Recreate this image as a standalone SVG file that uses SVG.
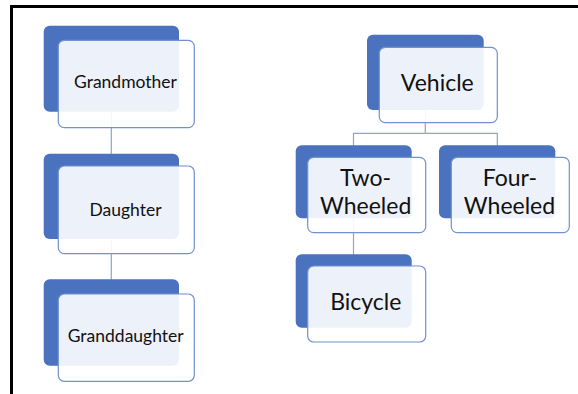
<svg xmlns="http://www.w3.org/2000/svg" width="578" height="394" viewBox="0 0 578 394">
<style>
.back{fill:#4A72BE;}
.front{fill:#FFFFFF;fill-opacity:0.9;stroke:#7092D0;stroke-width:1.2;}
.conn{fill:none;stroke:#8EA3CF;stroke-width:1.2;}
.lbl{font-family:Lato,"Liberation Sans",sans-serif;fill:#111;text-anchor:middle;}
.s{font-size:17.5px;}
.l{font-size:23px;}
</style>
<rect width="578" height="394" fill="#FFFFFF"/>
<path d="M11.5 394 V6.5 H578" fill="none" stroke="#000" stroke-width="3"/>
<g id="connectors">
<path class="conn" d="M111.3 112 V154"/>
<path class="conn" d="M111.3 239 V280"/>
<path class="conn" d="M425.3 110 V133.3 M353.5 146 V133.3 H497.3 V146"/>
<path class="conn" d="M353.5 218 V255"/>
</g>
<g id="grandmother">
<rect class="back" x="43.7" y="25.7" width="135.3" height="86" rx="6"/>
<rect class="front" x="58.3" y="40.3" width="136" height="87.4" rx="6"/>
<text class="lbl s" x="125.5" y="88">Grandmother</text>
</g>
<g id="daughter">
<rect class="back" x="43.7" y="153.7" width="135.3" height="85.3" rx="6"/>
<rect class="front" x="58.3" y="166" width="136" height="87.7" rx="6"/>
<text class="lbl s" x="125.5" y="216">Daughter</text>
</g>
<g id="granddaughter">
<rect class="back" x="43.7" y="279.3" width="135.3" height="86.4" rx="6"/>
<rect class="front" x="58.3" y="294" width="136" height="87.3" rx="6"/>
<text class="lbl s" x="125.7" y="342.3">Granddaughter</text>
</g>
<g id="vehicle">
<rect class="back" x="367" y="34.7" width="116.7" height="75.3" rx="6"/>
<rect class="front" x="379.3" y="47.3" width="118" height="75.4" rx="6"/>
<text class="lbl l" x="437.3" y="91">Vehicle</text>
</g>
<g id="two-wheeled">
<rect class="back" x="295.7" y="145.3" width="116" height="73" rx="6"/>
<rect class="front" x="307.7" y="157.3" width="118" height="75.4" rx="6"/>
<text class="lbl l" x="365.5" y="185.7">Two-</text>
<text class="lbl l" x="365.7" y="214">Wheeled</text>
</g>
<g id="four-wheeled">
<rect class="back" x="439" y="145.3" width="116.3" height="73" rx="6"/>
<rect class="front" x="451.3" y="157.3" width="118" height="75.4" rx="6"/>
<text class="lbl l" x="509.8" y="185.7">Four-</text>
<text class="lbl l" x="509.5" y="214">Wheeled</text>
</g>
<g id="bicycle">
<rect class="back" x="295.7" y="254.3" width="116" height="73.4" rx="6"/>
<rect class="front" x="307.7" y="266" width="118" height="76" rx="6"/>
<text class="lbl l" x="365.8" y="310">Bicycle</text>
</g>
</svg>
